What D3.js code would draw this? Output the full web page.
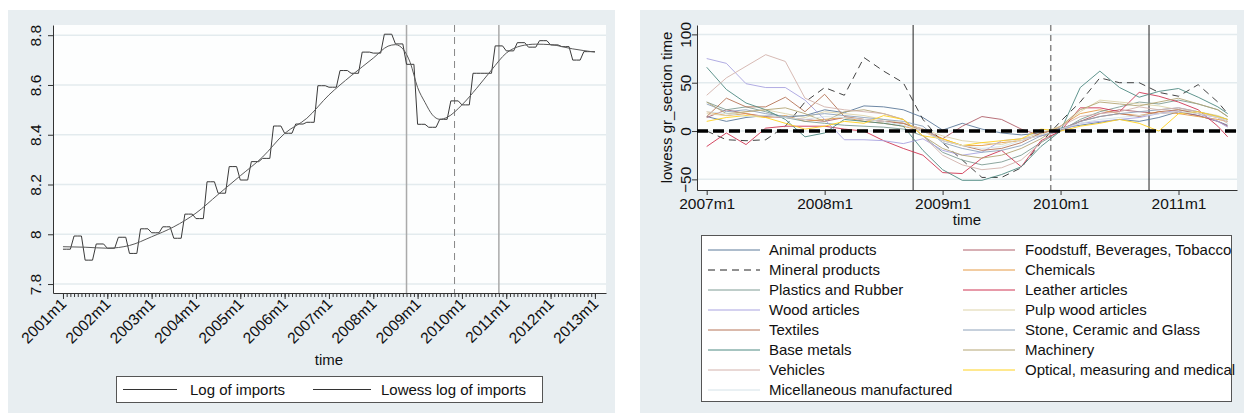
<!DOCTYPE html>
<html>
<head>
<meta charset="utf-8">
<script src="https://cdn.jsdelivr.net/npm/d3@7"></script>
<style>
  body { margin: 0; background: #fff; }
  text { font-family: "Liberation Sans", Arial, sans-serif; fill: #111; }
</style>
</head>
<body>
<svg id="chart" width="1244" height="415"></svg>
<script>
// ---------- left panel data (months since 2001m1) ----------
const leftYearLabels = ["2001m1","2002m1","2003m1","2004m1","2005m1","2006m1","2007m1",
                        "2008m1","2009m1","2010m1","2011m1","2012m1","2013m1"];
const leftYTicks = [7.8, 8, 8.2, 8.4, 8.6, 8.8];
const leftYLabels = ["7.8", "8", "8.2", "8.4", "8.6", "8.8"];

// log of imports, monthly 2001m1 .. 2013m1
const logImports = [
  7.940,7.940,7.940, 7.993,7.993,7.993, 7.896,7.896,7.896, 7.961,7.961,7.961, // 2001
  7.944,7.944,7.944, 7.988,7.988,7.988, 7.923,7.923,7.923, 8.022,8.022,8.022, // 2002
  8.006,8.006,8.006, 8.030,8.030,8.030, 7.984,7.984,7.984, 8.081,8.081,8.081, // 2003
  8.063,8.063,8.063, 8.211,8.211,8.211, 8.165,8.165,8.165, 8.272,8.272,8.272, // 2004
  8.218,8.218,8.218, 8.292,8.292,8.292, 8.305,8.305,8.305, 8.435,8.435,8.435, // 2005
  8.406,8.406,8.406, 8.443,8.443,8.443, 8.450,8.450,8.450, 8.597,8.597,8.597, // 2006
  8.591,8.591,8.591, 8.658,8.658,8.658, 8.647,8.647,8.647, 8.732,8.732,8.732, // 2007
  8.728,8.728,8.728, 8.804,8.804,8.804, 8.765,8.765,8.765, 8.683,8.683,8.683, // 2008
  8.442,8.442,8.442, 8.430,8.430,8.430, 8.462,8.462,8.462, 8.536,8.536,8.536, // 2009
  8.520,8.520,8.520, 8.647,8.647,8.647, 8.647,8.647,8.647, 8.757,8.757,8.757, // 2010
  8.737,8.737,8.737, 8.770,8.770,8.770, 8.752,8.752,8.752, 8.778,8.778,8.778, // 2011
  8.761,8.761,8.761, 8.754,8.754,8.754, 8.700,8.700,8.700, 8.734,8.734,8.734, // 2012
  8.734                                                                        // 2013m1
];

// lowess of log imports, read at these months
const lowessMonths = [0,6,12,18,24,30,36,42,48,54,60,66,72,78,84,88,90,92,94,96,98,100,102,104,108,112,116,120,124,128,132,138,144];
const lowessLog    = [7.950,7.948,7.944,7.955,7.990,8.030,8.085,8.160,8.235,8.310,8.405,8.466,8.560,8.637,8.708,8.756,8.762,8.745,8.690,8.590,8.530,8.480,8.462,8.470,8.520,8.587,8.660,8.728,8.757,8.764,8.762,8.745,8.732];

const leftRefSolid = [93, 118];   // 2008m10, 2010m11
const leftRefDashed = [106];      // 2009m11

// ---------- right panel data (months since 2007m1) ----------
const rightYearLabels = ["2007m1","2008m1","2009m1","2010m1","2011m1"];
const rightYTicks = [-50, 0, 50, 100];
const sectionMonths = [0,2,4,6,8,10,12,14,16,18,20,22,24,26,28,30,32,34,36,38,40,42,44,46,48,50,52,53];

const animal     = [15,10,14,16,14,16,22,19,26,25,22,14,1,8,2,-2,-4,-2,3,6,9,12,10,14,20,16,10,6];
const foodstuff  = [14,22,18,15,14,12,10,14,12,10,8,2,-8,5,15,12,2,-5,0,10,18,22,20,18,20,16,10,5];
const mineral    = [0,-9,-10,-9,5,30,45,37,76,62,50,12,-12,-30,-48,-48,-38,-12,10,30,55,50,50,40,36,48,30,18];
const chemicals  = [20,16,18,14,16,10,12,14,10,8,5,0,-8,-15,-15,-12,-10,-4,5,18,22,18,16,20,18,15,12,10];
const plastics   = [30,22,25,20,14,10,8,6,5,4,2,-5,-22,-30,-35,-32,-25,-12,0,12,20,25,30,28,32,28,22,15];
const leather    = [-16,-2,-14,3,5,5,5,2,0,-10,-18,-25,-43,-44,-28,-20,-37,-10,0,24,24,20,40,36,30,22,5,-6];
const wood       = [75,70,49,45,45,32,12,-9,-9,-10,-13,-8,-20,-25,-22,-10,-8,-5,0,8,10,12,14,18,22,18,10,4];
const pulp       = [18,16,20,22,18,14,20,18,16,12,8,2,-5,-10,-12,-14,-8,-2,5,20,32,30,28,26,22,20,16,12];
const textiles   = [15,34,25,25,35,20,38,15,12,10,8,0,-10,-15,-20,-18,-12,-2,2,10,15,18,15,20,22,18,14,10];
const stone      = [28,20,22,18,15,16,18,16,14,12,10,5,-12,-18,-22,-20,-15,-5,2,10,15,18,20,22,24,20,15,12];
const baseMetals = [66,43,29,22,12,-6,-2,12,10,8,5,-20,-40,-51,-51,-45,-37,-16,0,45,62,45,35,41,44,35,25,18];
const machinery  = [30,18,20,22,24,18,10,20,22,18,12,-5,-18,-25,-28,-25,-18,-8,5,22,30,28,26,30,34,28,22,15];
const vehicles   = [37,55,67,79,72,34,25,22,20,18,12,-5,-25,-35,-40,-38,-30,-12,5,15,18,20,25,22,24,20,14,8];
const optical    = [10,14,16,14,8,2,5,10,8,16,12,-5,-8,-15,-12,-10,-8,2,0,5,8,12,8,0,18,20,15,12];
const misc       = [20,18,15,16,14,12,15,14,12,10,6,0,-10,-15,-18,-16,-10,-4,2,8,12,14,16,18,20,18,14,10];

const sectionNames = ["Animal products","Foodstuff, Beverages, Tobacco","Mineral products","Chemicals",
  "Plastics and Rubber","Leather articles","Wood articles","Pulp wood articles","Textiles",
  "Stone, Ceramic and Glass","Base metals","Machinery","Vehicles","Optical, measuring and medical",
  "Micellaneous manufactured"];
const sectionSeries = [animal, foodstuff, mineral, chemicals, plastics, leather, wood, pulp, textiles,
  stone, baseMetals, machinery, vehicles, optical, misc];
const sectionColors = ["#5d7a9a","#b0606a","#222","#e59a45","#7f9c94","#cf3552","#a9a3e0","#ddd3a8",
  "#b67458","#8ea2ba","#4f8a82","#b4a575","#d3b2ac","#ffd21f","#d4e2e8"];

const rightRefSolid = [21, 45];   // 2008m10, 2010m10
const rightRefDashed = [35];      // 2009m12

const svg = d3.select("#chart");
const bg = "#e8eef1", grid = "#e3ebee";

// ================= LEFT PANEL =================
svg.append("rect").attr("x", 8).attr("y", 10).attr("width", 607).attr("height", 403).attr("fill", bg);
svg.append("rect").attr("x", 53).attr("y", 25).attr("width", 553).attr("height", 268).attr("fill", "#fdfefe");

const xL = d3.scaleLinear().domain([-2.7, 147]).range([53, 606]);
const yL = d3.scaleLinear().domain([7.764, 8.841]).range([293, 25]);

svg.append("g").selectAll("line").data(leftYTicks).enter().append("line")
  .attr("x1", 53).attr("x2", 606)
  .attr("y1", d => yL(d)).attr("y2", d => yL(d))
  .attr("stroke", grid).attr("stroke-width", 1.5);

svg.append("g").selectAll("line").data(leftRefSolid).enter().append("line")
  .attr("x1", d => xL(d)).attr("x2", d => xL(d)).attr("y1", 25).attr("y2", 293)
  .attr("stroke", "#aaa").attr("stroke-width", 1.5);
svg.append("g").selectAll("line").data(leftRefDashed).enter().append("line")
  .attr("x1", d => xL(d)).attr("x2", d => xL(d)).attr("y1", 25).attr("y2", 293)
  .attr("stroke", "#888").attr("stroke-width", 1).attr("stroke-dasharray", "7,5");

// y axis
const yAxL = svg.append("g").attr("transform", "translate(53,0)")
  .call(d3.axisLeft(yL).tickValues(leftYTicks).tickSize(5).tickSizeOuter(0)
    .tickFormat((d, i) => leftYLabels[i]));
yAxL.select(".domain").attr("stroke", "#333");
yAxL.selectAll(".tick line").attr("stroke", "#333");
yAxL.selectAll(".tick text")
  .attr("transform", "rotate(-90)").attr("x", 0).attr("y", -12).attr("dy", 0)
  .attr("text-anchor", "middle").style("font-size", "15.5px");

// x axis: monthly minor ticks
svg.append("g").attr("transform", "translate(0,293)")
  .call(d3.axisBottom(xL).tickValues(d3.range(0, 145)).tickSize(4).tickSizeOuter(0).tickFormat(""))
  .call(g => g.selectAll("line").attr("stroke", "#333"))
  .call(g => g.select(".domain").attr("stroke", "#333"));
const xAxL = svg.append("g").attr("transform", "translate(0,293)")
  .call(d3.axisBottom(xL).tickValues(leftYearLabels.map((d, i) => i * 12)).tickSize(6).tickSizeOuter(0)
    .tickFormat((d, i) => leftYearLabels[i]));
xAxL.select(".domain").remove();
xAxL.selectAll(".tick line").attr("stroke", "#333");
xAxL.selectAll(".tick text")
  .attr("transform", "translate(0,8) rotate(-45)").attr("x", 0).attr("y", 0).attr("dy", "0.35em")
  .attr("text-anchor", "end").style("font-size", "15.5px");

svg.append("text").attr("x", 329).attr("y", 365).attr("text-anchor", "middle")
  .style("font-size", "15px").text("time");

// series
const lineL = d3.line().x(d => xL(d[0])).y(d => yL(d[1]));
svg.append("path").datum(logImports.map((v, i) => [i, v]))
  .attr("d", lineL).attr("fill", "none").attr("stroke", "#3a3a3a").attr("stroke-width", 1);
svg.append("path").datum(lowessMonths.map((m, i) => [m, lowessLog[i]]))
  .attr("d", lineL.curve(d3.curveMonotoneX)).attr("fill", "none").attr("stroke", "#5a5a5a").attr("stroke-width", 1);

// legend
svg.append("rect").attr("x", 116.5).attr("y", 376.5).attr("width", 426).attr("height", 26)
  .attr("fill", "#fff").attr("stroke", "#555");
const legL = [["Log of imports", 123, 177, 190], ["Lowess log of imports", 313, 371, 381]];
legL.forEach(e => {
  svg.append("line").attr("x1", e[1]).attr("x2", e[2]).attr("y1", 389.5).attr("y2", 389.5)
    .attr("stroke", "#333");
  svg.append("text").attr("x", e[3]).attr("y", 395).style("font-size", "15px").text(e[0]);
});

// ================= RIGHT PANEL =================
svg.append("rect").attr("x", 640).attr("y", 10).attr("width", 604).attr("height", 403).attr("fill", bg);
svg.append("rect").attr("x", 697).attr("y", 25).attr("width", 540).attr("height", 165).attr("fill", "#fdfefe");

const xR = d3.scaleLinear().domain([-0.987, 53.95]).range([697, 1237]);
const yR = d3.scaleLinear().domain([-61, 109.7]).range([190, 25]);

svg.append("g").selectAll("line").data(rightYTicks).enter().append("line")
  .attr("x1", 697).attr("x2", 1237)
  .attr("y1", d => yR(d)).attr("y2", d => yR(d))
  .attr("stroke", grid).attr("stroke-width", 1.5);

svg.append("g").selectAll("line").data(rightRefSolid).enter().append("line")
  .attr("x1", d => xR(d)).attr("x2", d => xR(d)).attr("y1", 25).attr("y2", 190)
  .attr("stroke", "#222").attr("stroke-width", 1);
svg.append("g").selectAll("line").data(rightRefDashed).enter().append("line")
  .attr("x1", d => xR(d)).attr("x2", d => xR(d)).attr("y1", 25).attr("y2", 190)
  .attr("stroke", "#888").attr("stroke-width", 1.5).attr("stroke-dasharray", "6,4");

const yAxR = svg.append("g").attr("transform", "translate(697,0)")
  .call(d3.axisLeft(yR).tickValues(rightYTicks).tickSize(5).tickSizeOuter(0));
yAxR.select(".domain").attr("stroke", "#333");
yAxR.selectAll(".tick line").attr("stroke", "#333");
yAxR.selectAll(".tick text")
  .attr("transform", "rotate(-90)").attr("x", 0).attr("y", -6).attr("dy", 0)
  .attr("text-anchor", "middle").style("font-size", "15.5px");

const xAxR = svg.append("g").attr("transform", "translate(0,190)")
  .call(d3.axisBottom(xR).tickValues(rightYearLabels.map((d, i) => i * 12)).tickSize(5).tickSizeOuter(0)
    .tickFormat((d, i) => rightYearLabels[i]));
xAxR.select(".domain").attr("stroke", "#333");
xAxR.selectAll(".tick line").attr("stroke", "#333");
xAxR.selectAll(".tick text").attr("y", 8).attr("dy", "0.71em").style("font-size", "15.5px");

svg.append("text").attr("transform", "translate(672,107.5) rotate(-90)").attr("text-anchor", "middle")
  .style("font-size", "15px").text("lowess gr_section time");
svg.append("text").attr("x", 967).attr("y", 225).attr("text-anchor", "middle")
  .style("font-size", "15px").text("time");

const lineR = d3.line().x(d => xR(d[0])).y(d => yR(d[1]));
const plotR = svg.append("g");
sectionSeries.forEach((s, k) => {
  plotR.append("path").datum(sectionMonths.map((m, i) => [m, s[i]]))
    .attr("d", lineR).attr("fill", "none")
    .attr("stroke", sectionColors[k]).attr("stroke-width", 1)
    .attr("stroke-dasharray", k === 2 ? "7,5" : null)
    .attr("stroke-opacity", k === 2 ? 0.85 : 0.9);
});

// zero line on top
svg.append("line").attr("x1", 697).attr("x2", 1237).attr("y1", yR(0)).attr("y2", yR(0))
  .attr("stroke", "#000").attr("stroke-width", 3.5).attr("stroke-dasharray", "11,5");

// legend
svg.append("rect").attr("x", 701.5).attr("y", 235.5).attr("width", 530).attr("height", 166)
  .attr("fill", "#fff").attr("stroke", "#555");
const legR = svg.append("g");
sectionNames.forEach((name, k) => {
  const col = k % 2, row = Math.floor(k / 2);
  const cy = 250 + row * 20;
  const lx = col === 0 ? 708 : 963;
  legR.append("line").attr("x1", lx).attr("x2", lx + 52).attr("y1", cy).attr("y2", cy)
    .attr("stroke", sectionColors[k]).attr("stroke-width", 1)
    .attr("stroke-dasharray", k === 2 ? "7,5" : null);
  legR.append("text").attr("x", col === 0 ? 769 : 1025).attr("y", cy + 5)
    .style("font-size", "15px").text(name);
});
</script>
</body>
</html>
